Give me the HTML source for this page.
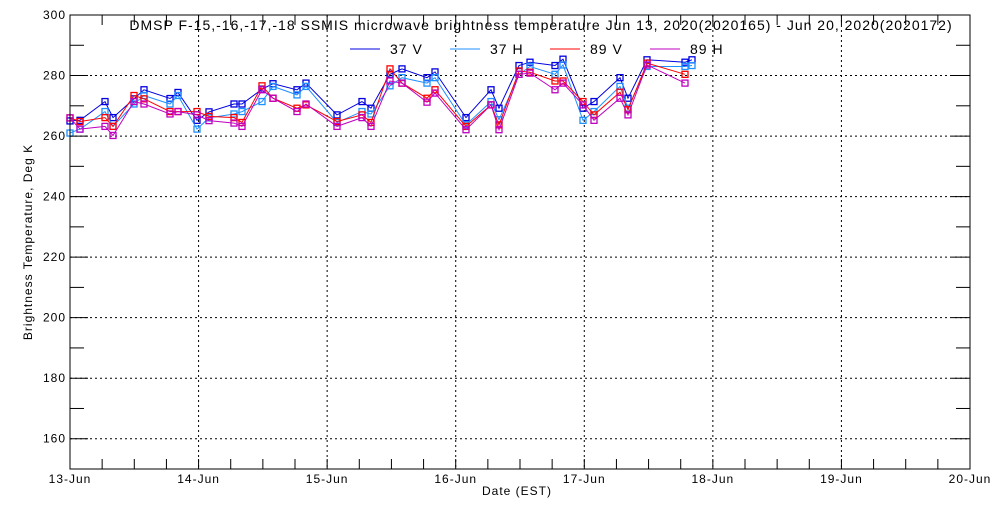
<!DOCTYPE html>
<html><head><meta charset="utf-8"><style>
body{margin:0;background:#fff}
svg text{font-family:"Liberation Sans",sans-serif;font-size:12px;fill:#000;letter-spacing:1px}
</style></head><body>
<svg id="c" width="1000" height="500" xmlns="http://www.w3.org/2000/svg">
<rect width="1000" height="500" fill="#fff"/>
<text x="541" y="30" text-anchor="middle" style="font-size:14px">DMSP F-15,-16,-17,-18 SSMIS microwave brightness temperature Jun 13, 2020(2020165) - Jun 20, 2020(2020172)</text>
<text transform="translate(32,242) rotate(-90)" text-anchor="middle">Brightness Temperature, Deg K</text>
<text x="517" y="495" text-anchor="middle">Date (EST)</text>
<g id="grid"></g><g id="series"></g><g id="axes"></g><g id="legend"></g>
</svg>
<script>
const xPix=[70,80,105,113,134,144,170,178,197,209,234,242,262,273,297,306,337,362,371,390,402,427,435,466,491,499,519,530,555,563,583,594,620,628,647,685,692];
const v37V=[265,265.2,271.4,266.1,272.3,275.3,272.4,274.4,265.2,268,270.6,270.6,275.5,277.3,275.3,277.5,267,271.4,269.2,280.4,282.2,279.3,281.2,266.1,275.3,269.2,283.3,284.4,283.3,285.4,269.2,271.4,279.3,272.5,285.2,284.4,285.2];
const v37H=[261,262.3,268.1,263.2,270.6,273.4,270.6,273.4,262.3,266,267.3,268.1,271.4,276.4,273.6,276.4,264.5,268.1,267.3,276.6,279.3,277.5,279.3,263.7,271.4,265.4,280.4,283,280.4,283.5,265.2,268.1,276.4,269.2,283,283,283.3];
const v89V=[266,264.8,266.1,263.2,273.4,272.3,268.1,268.1,268.1,266.5,266.1,264.5,276.6,272.5,269.2,270.3,264.8,267,264.5,282.2,277.5,272.5,275.3,263.2,270.3,263.7,281.5,281.1,278.2,278.2,271.4,267,274.5,268.7,284.1,280.4,null];
const v89H=[266,262.3,263.2,260.2,271.4,270.6,267.3,268.1,267,265.1,264.3,263.2,275.3,272.5,268.1,270.6,263.2,266.1,263.2,278.2,277.5,271.2,274.2,262.1,270.3,262.1,280.4,280.8,275.3,277.5,270.3,265.2,272.5,267,283.5,277.5,null];
const dayLabels=["13-Jun","14-Jun","15-Jun","16-Jun","17-Jun","18-Jun","19-Jun","20-Jun"];
const yTicks=[160,180,200,220,240,260,280,300];
const seriesNames=["37 V","37 H","89 V","89 H"];
const colors=["#0000e0","#1e90ff","#ff0000","#c000c0"];
const X0=70,X1=970,Y0=469,Y1=15,VMIN=150,VMAX=300;
const dayX=d=>X0+d*(X1-X0)/7;
const xs=t=>X0+t*(X1-X0)/7;
const ys=v=>Y0-(v-VMIN)*(Y0-Y1)/(VMAX-VMIN);
const NS="http://www.w3.org/2000/svg";
function mk(tag,attrs,parent){const e=document.createElementNS(NS,tag);for(const k in attrs)e.setAttribute(k,attrs[k]);document.getElementById(parent).appendChild(e);return e;}
dayLabels.forEach((l,i)=>{const x=dayX(i);
 if(i>0&&i<7){const g=mk('line',{x1:x,y1:Y1,x2:x,y2:Y0,stroke:'#000','stroke-dasharray':'2,3'},'grid');
 
 }
 const t=mk('text',{x:x,y:Y0+14,'text-anchor':'middle'},'axes');t.textContent=l;
 
 
});
yTicks.forEach(v=>{const y=ys(v);
 if(v<300){const g=mk('line',{x1:X0,y1:y,x2:X1,y2:y,stroke:'#000','stroke-dasharray':'2,3'},'grid');
 
 }
 const t=mk('text',{x:X0-4,y:y+4,'text-anchor':'end'},'axes');t.textContent=v;
 
 
});
for(let v=VMIN;v<=VMAX;v+=10){const y=ys(v);const len=(v%20===0)?18:14;
 mk('line',{x1:X0,y1:y,x2:X0+len,y2:y,stroke:'#000'},'axes');
 mk('line',{x1:X1,y1:y,x2:X1-len,y2:y,stroke:'#000'},'axes');}
for(let q=0;q<=28;q++){const x=xs(q/4);const len=10;
 mk('line',{x1:x,y1:Y0,x2:x,y2:Y0-len,stroke:'#000'},'axes');
 mk('line',{x1:x,y1:Y1,x2:x,y2:Y1+len,stroke:'#000'},'axes');}
const fr=mk('rect',{x:X0,y:Y1,width:X1-X0,height:Y0-Y1,fill:'none',stroke:'#000'},'axes');


const tOf=p=>(p-X0)/((X1-X0)/7);
[v37V,v37H,v89V,v89H].forEach((arr,si)=>{
 let d='';arr.forEach((v,i)=>{if(v==null)return;const x=xs(tOf(xPix[i])),y=ys(v);d+=(d?'L':'M')+x.toFixed(1)+','+y.toFixed(1);});
 const p=mk('path',{d:d,fill:'none',stroke:colors[si],'stroke-width':1},'series');
 
 
 arr.forEach((v,i)=>{if(v==null)return;const x=xs(tOf(xPix[i])),y=ys(v);
  const r=mk('rect',{x:x-3,y:y-3,width:6,height:6,fill:'none',stroke:colors[si],'stroke-width':1.3},'series');
  
  });
});
seriesNames.forEach((n,i)=>{const x0=350+i*100;
 const l=mk('line',{x1:x0,y1:49,x2:x0+30,y2:49,stroke:colors[i]},'legend');
 
 
 const t=mk('text',{x:x0+40,y:54,style:'font-size:14px'},'legend');t.textContent=n;
 
 
});
</script>
</body></html>
